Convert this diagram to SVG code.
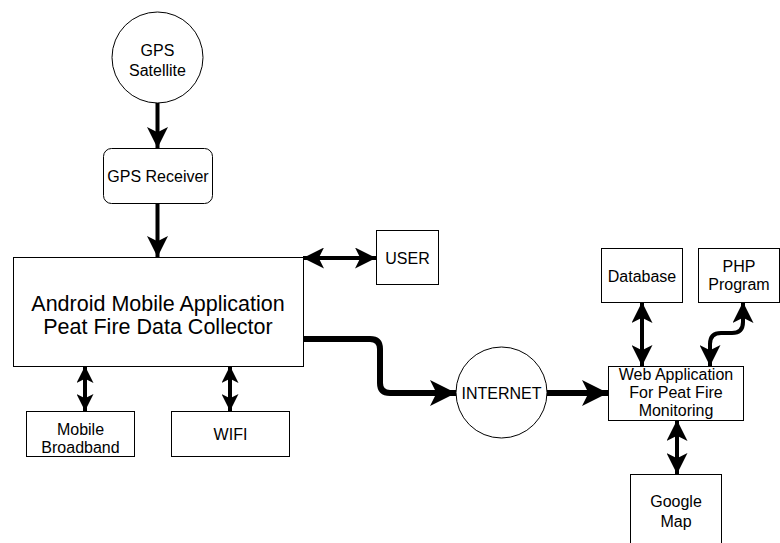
<svg xmlns="http://www.w3.org/2000/svg" width="780" height="543" viewBox="0 0 780 543">
  <style>
    .box { fill: #ffffff; stroke: #000000; stroke-width: 1; }
    .lbl { font-family: "Liberation Sans", Arial, sans-serif; font-size: 16px; fill: #000000; text-anchor: middle; }
    .big { font-size: 21.5px; }
    .wire { fill: none; stroke: #000000; stroke-width: 4; }
    .thick { fill: none; stroke: #000000; stroke-width: 6; }
  </style>
  <defs>
    <marker id="head" viewBox="0 0 20 20" refX="20" refY="10" markerWidth="21" markerHeight="21" markerUnits="userSpaceOnUse" orient="auto-start-reverse">
      <path d="M0,0 L20,10 L0,20 L5,10 Z" fill="#000000"/>
    </marker>
    <marker id="headSmall" viewBox="0 0 20 20" refX="20" refY="10" markerWidth="17" markerHeight="17" markerUnits="userSpaceOnUse" orient="auto-start-reverse">
      <path d="M0,0 L20,10 L0,20 L5,10 Z" fill="#000000"/>
    </marker>
    <marker id="headBig" viewBox="0 0 20 20" refX="20" refY="10" markerWidth="26" markerHeight="26" markerUnits="userSpaceOnUse" orient="auto">
      <path d="M0,0 L20,10 L0,20 L5,10 Z" fill="#000000"/>
    </marker>
  </defs>

  <rect width="780" height="543" fill="#ffffff"/>

  <!-- connectors -->
  <g id="connectors">
    <path class="wire" d="M157.5,103 L157.5,148" marker-end="url(#head)"/>
    <path class="wire" d="M157.5,203 L157.5,257" marker-end="url(#head)"/>
    <path class="wire" d="M303,258 L376,258" marker-start="url(#head)" marker-end="url(#head)"/>
    <path class="wire" d="M85,366 L85,411" marker-start="url(#headSmall)" marker-end="url(#headSmall)"/>
    <path class="wire" d="M230,366 L230,411" marker-start="url(#headSmall)" marker-end="url(#headSmall)"/>
    <path class="thick" d="M303,339 L370,339 Q380,339 380,349 L380,383 Q380,393 390,393 L456,393" marker-end="url(#headBig)"/>
    <path class="thick" d="M547,393 L608,393" marker-end="url(#headBig)"/>
    <path class="wire" d="M642,302 L642,366" marker-start="url(#head)" marker-end="url(#head)"/>
    <path class="wire" d="M710,366 L710,344 Q710,333 721,333 L732,333 Q743,333 743,322 L743,302" marker-start="url(#head)" marker-end="url(#head)"/>
    <path class="wire" d="M677,420 L677,474" marker-start="url(#head)" marker-end="url(#head)"/>
  </g>

  <g id="gps-satellite">
    <circle class="box" cx="157.5" cy="57.5" r="45.5"/>
    <text class="lbl" x="157.5" y="56">GPS</text>
    <text class="lbl" x="157.5" y="76">Satellite</text>
  </g>

  <g id="gps-receiver">
    <rect class="box" x="103.5" y="148.5" width="109" height="55" rx="8" ry="8"/>
    <text class="lbl" x="158" y="182">GPS Receiver</text>
  </g>

  <g id="android-app">
    <rect class="box" x="13.5" y="257.5" width="290" height="109"/>
    <text class="lbl big" x="158" y="311">Android Mobile Application</text>
    <text class="lbl big" x="158" y="334">Peat Fire Data Collector</text>
  </g>

  <g id="user">
    <rect class="box" x="376.5" y="230.5" width="62" height="54"/>
    <text class="lbl" x="407.5" y="264">USER</text>
  </g>

  <g id="mobile-broadband">
    <rect class="box" x="26.5" y="411.5" width="108" height="45"/>
    <text class="lbl" x="80.5" y="435">Mobile</text>
    <text class="lbl" x="80.5" y="453">Broadband</text>
  </g>

  <g id="wifi">
    <rect class="box" x="171.5" y="411.5" width="118" height="45"/>
    <text class="lbl" x="230.5" y="440">WIFI</text>
  </g>

  <g id="internet">
    <circle class="box" cx="501.5" cy="392.5" r="45.5"/>
    <text class="lbl" x="501.5" y="399">INTERNET</text>
  </g>

  <g id="web-app">
    <rect class="box" x="608.5" y="366.5" width="135" height="54"/>
    <text class="lbl" x="676" y="380">Web Application</text>
    <text class="lbl" x="676" y="398">For Peat Fire</text>
    <text class="lbl" x="676" y="416">Monitoring</text>
  </g>

  <g id="database">
    <rect class="box" x="601.5" y="248.5" width="81" height="54"/>
    <text class="lbl" x="642" y="282">Database</text>
  </g>

  <g id="php-program">
    <rect class="box" x="698.5" y="248.5" width="81" height="54"/>
    <text class="lbl" x="739" y="272">PHP</text>
    <text class="lbl" x="739" y="290">Program</text>
  </g>

  <g id="google-map">
    <rect class="box" x="630.5" y="474.5" width="91" height="80"/>
    <text class="lbl" x="676" y="507">Google</text>
    <text class="lbl" x="676" y="527">Map</text>
  </g>
</svg>
